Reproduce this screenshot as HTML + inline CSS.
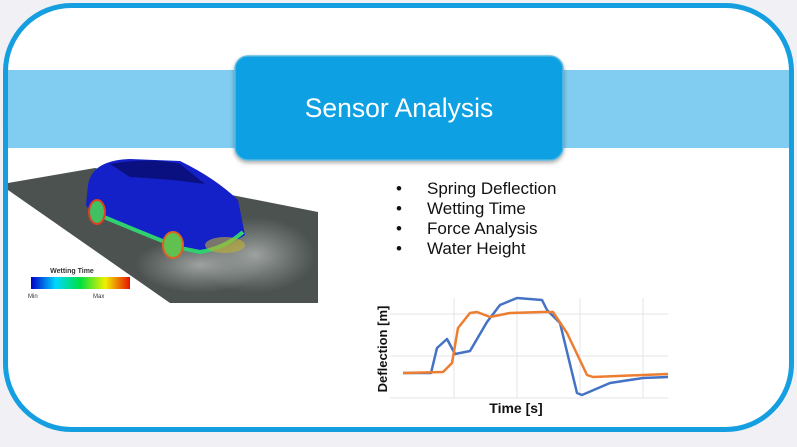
<!DOCTYPE html>
<html><head><meta charset="utf-8"><style>
body{margin:0;width:797px;height:442px;background:#f0f0f5;overflow:hidden;font-family:"Liberation Sans",sans-serif;}
</style></head><body>
<svg width="797" height="442" viewBox="0 0 797 442" xmlns="http://www.w3.org/2000/svg">
<defs>
<clipPath id="fr"><rect x="5.5" y="5.5" width="786" height="424" rx="66"/></clipPath>
<linearGradient id="cb" x1="0" x2="1"><stop offset="0" stop-color="#0000c8"/><stop offset="0.25" stop-color="#00d8ff"/><stop offset="0.5" stop-color="#00e040"/><stop offset="0.75" stop-color="#f0f000"/><stop offset="1" stop-color="#e81000"/></linearGradient>
<radialGradient id="spl" cx="0.5" cy="0.5" r="0.5"><stop offset="0" stop-color="#a8acaa" stop-opacity="0.9"/><stop offset="1" stop-color="#9aa09e" stop-opacity="0"/></radialGradient>
<filter id="sh"><feDropShadow dx="0" dy="2" stdDeviation="2" flood-opacity="0.35"/></filter>
</defs>
<rect x="5.5" y="5.5" width="786" height="424" rx="66" fill="#fff"/>
<g clip-path="url(#fr)"><rect x="0" y="70" width="797" height="78" fill="#80cdf1"/></g>
<rect x="5.5" y="5.5" width="786" height="424" rx="66" fill="none" stroke="#159fe0" stroke-width="5"/>
<rect x="235" y="56" width="328" height="104" rx="13" fill="#08a0e2" stroke="#5ab8e4" stroke-width="1.5" filter="url(#sh)"/>
<text x="399" y="117" text-anchor="middle" font-size="26.5" fill="#fff" font-family="Liberation Sans, DejaVu Sans, sans-serif">Sensor Analysis</text>
<!-- car image -->
<polygon points="8,183 95,168 318,212 318,303 170,303 8,190" fill="#4b5250"/>
<ellipse cx="255" cy="255" rx="60" ry="38" fill="url(#spl)"/>
<ellipse cx="200" cy="265" rx="65" ry="28" fill="url(#spl)"/>
<path d="M88,185 Q92,160 130,159 L180,161 Q215,178 238,200 L245,235 Q220,252 195,252 L175,250 Q160,240 120,225 Q90,215 86,205 Z" fill="#1420c8"/>
<path d="M110,164 Q150,157 180,164 L205,184 Q170,179 130,177 Z" fill="#0a1080"/>
<path d="M92,212 Q130,228 180,248 L200,252 Q225,248 243,232" fill="none" stroke="#30d070" stroke-width="4"/>
<ellipse cx="97" cy="212" rx="8" ry="12" fill="#40c060" stroke="#e04020" stroke-width="2"/>
<ellipse cx="173" cy="245" rx="10" ry="13" fill="#60c050" stroke="#e06020" stroke-width="2"/>
<ellipse cx="225" cy="245" rx="20" ry="8" fill="#c0b030" opacity="0.6"/>
<text x="72" y="273" text-anchor="middle" font-size="7" font-weight="bold" fill="#333">Wetting Time</text>
<rect x="31" y="277" width="99" height="12" fill="url(#cb)"/>
<text x="28" y="298" font-size="6" fill="#333">Min</text>
<text x="93" y="298" font-size="6" fill="#333">Max</text>
<!-- bullets -->
<g font-size="17" fill="#111" font-family="Liberation Sans, DejaVu Sans, sans-serif">
<text x="396" y="194">•</text><text x="427" y="194">Spring Deflection</text>
<text x="396" y="214">•</text><text x="427" y="214">Wetting Time</text>
<text x="396" y="234">•</text><text x="427" y="234">Force Analysis</text>
<text x="396" y="254">•</text><text x="427" y="254">Water Height</text>
</g>
<!-- chart -->
<g stroke="#e4e4e8" stroke-width="1">
<line x1="390" y1="314" x2="668" y2="314"/><line x1="390" y1="356" x2="668" y2="356"/><line x1="390" y1="398" x2="668" y2="398"/>
<line x1="454" y1="298" x2="454" y2="398"/><line x1="517" y1="298" x2="517" y2="398"/><line x1="580" y1="298" x2="580" y2="398"/><line x1="643" y1="298" x2="643" y2="398"/>
</g>
<polyline fill="none" stroke="#4472c4" stroke-width="2.5" stroke-linejoin="round" points="403,373 431,373 437,348 447,339 455,354 470,351 487,322 500,305 517,298 542,300 547,310 560,323 577,393 582,395 610,383 643,378 668,377"/>
<polyline fill="none" stroke="#ed7d31" stroke-width="2.5" stroke-linejoin="round" points="403,373 443,372 452,363 458,328 470,313 477,312 490,317 510,313 543,312 553,312 567,333 587,375 593,377 643,375 668,374"/>
<text x="387" y="349" transform="rotate(-90 387 349)" text-anchor="middle" font-size="13" font-weight="bold" fill="#111">Deflection [m]</text>
<text x="516" y="413" text-anchor="middle" font-size="14" font-weight="bold" fill="#111">Time [s]</text>
</svg>
</body></html>
